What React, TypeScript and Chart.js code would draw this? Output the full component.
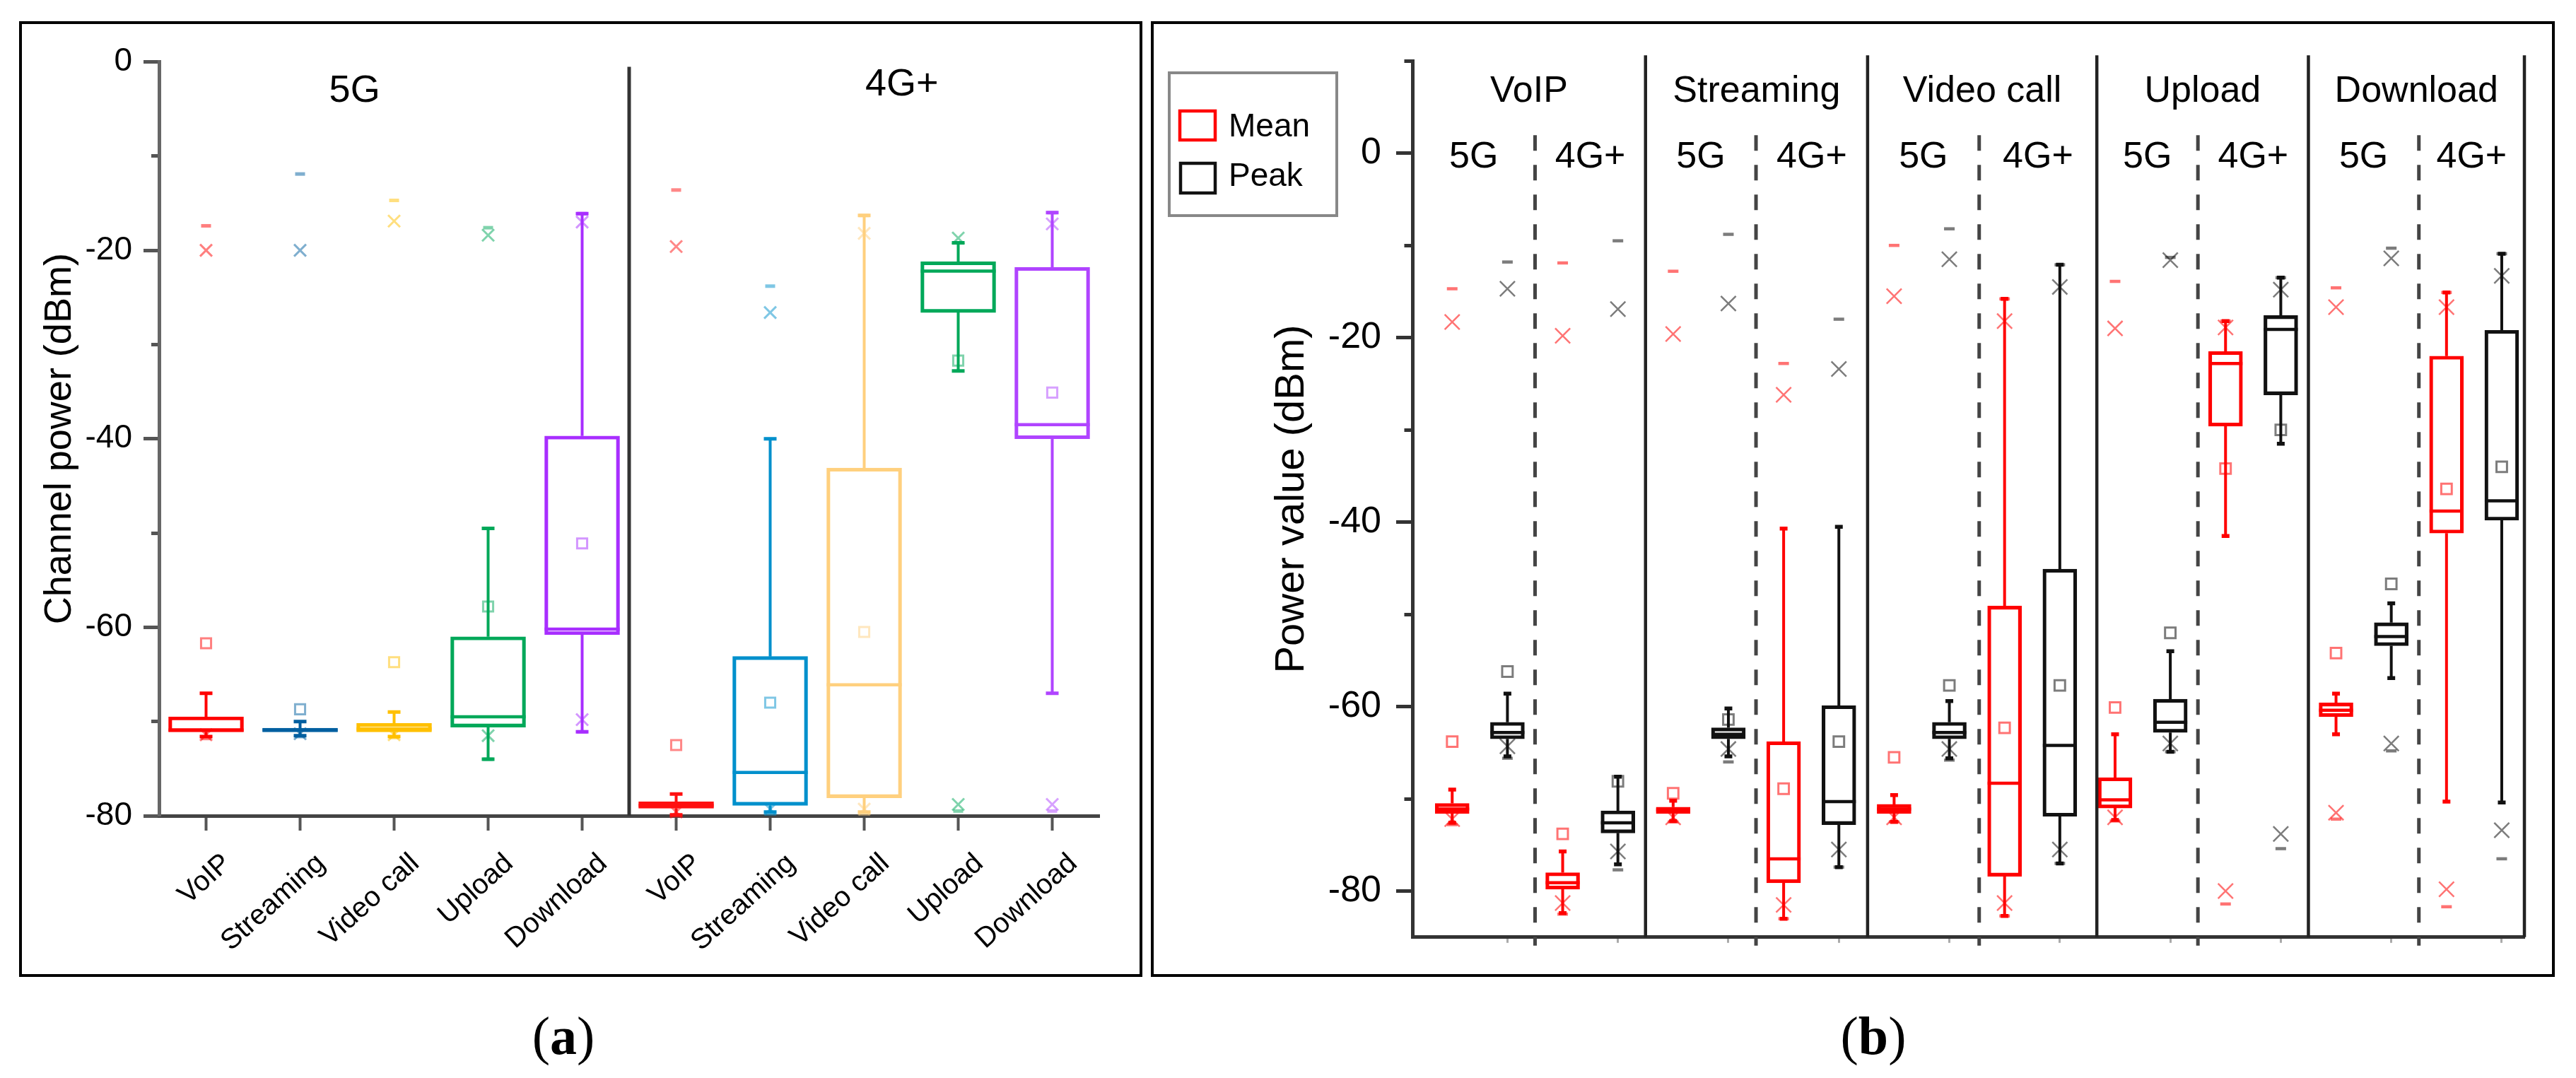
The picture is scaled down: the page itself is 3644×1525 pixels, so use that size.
import React, { useEffect, useRef } from 'react';
import { Chart, registerables } from 'chart.js';

Chart.register(...registerables);

const FONT = '"Liberation Sans", Arial, Helvetica, sans-serif';
Chart.defaults.font.family = FONT;
Chart.defaults.color = '#000';

// ---------------- Panel (a) data ----------------
const categoriesA = ['VoIP', 'Streaming', 'Video call', 'Upload', 'Download', 'VoIP', 'Streaming', 'Video call', 'Upload', 'Download'];
const networkOfA = ['5G', '5G', '5G', '5G', '5G', '4G+', '4G+', '4G+', '4G+', '4G+'];
const networkLabelsA = ['5G', '4G+'];
const whiskerLowA = [-71.6, -71.5, -71.6, -74.0, -71.1, -79.9, -79.6, -79.6, -32.8, -67.0];
const q1A = [-71.1, -71.1, -71.1, -70.6, -60.8, -79.2, -78.9, -78.1, -26.6, -40.0];
const medianA = [-70.9, -70.9, -70.8, -69.5, -60.2, -78.9, -75.4, -66.1, -22.2, -38.5];
const q3A = [-69.5, -70.7, -70.2, -61.0, -39.7, -78.5, -63.1, -43.1, -21.2, -21.8];
const whiskerHighA = [-67.0, -70.0, -69.0, -49.5, -16.1, -77.7, -40.0, -16.3, -19.2, -16.0];
const meanA = [-61.7, -68.7, -63.7, -57.8, -51.1, -72.5, -68.0, -60.5, -31.7, -35.1];
const p1A = [-71.4, -71.3, -71.4, -71.5, -69.8, -79.6, -79.3, -79.3, -78.8, -78.8];
const p99A = [-20.0, -20.0, -16.9, -18.4, -17.0, -19.6, -26.6, -18.2, -18.7, -17.2];
const minA = [-71.8, -71.6, -71.7, -74.0, -71.1, -80.0, -79.8, -79.8, -79.5, -79.5];
const maxA = [-17.4, -11.9, -14.7, -17.6, -16.1, -13.6, -23.8, -16.3, -19.2, -16.0];
const yTicksA = [-80, -70, -60, -50, -40, -30, -20, -10, 0];

// ---------------- Panel (b) data ----------------
const groupsB = ['VoIP', 'Streaming', 'Video call', 'Upload', 'Download'];
const networksB = ['5G', '4G+'];
const metricsB = ['Mean', 'Peak'];
const whiskerLowB = [-72.6, -65.4, -82.4, -77.1, -72.4, -65.4, -83.0, -77.4, -72.5, -65.6, -82.7, -77.0, -72.3, -64.9, -41.5, -31.5, -63.0, -56.9, -70.3, -70.4];
const q1B = [-71.6, -63.5, -79.8, -73.7, -71.6, -63.5, -79.1, -72.8, -71.6, -63.5, -78.4, -71.9, -71.0, -62.8, -29.6, -26.2, -61.1, -53.4, -41.2, -39.8];
const medianB = [-71.1, -62.8, -79.1, -72.6, -71.2, -63.0, -76.5, -70.3, -71.1, -62.8, -68.3, -64.2, -70.1, -61.7, -22.8, -19.1, -60.4, -52.4, -38.8, -37.7];
const q3B = [-70.5, -61.7, -78.0, -71.3, -70.9, -62.3, -63.8, -59.9, -70.6, -61.7, -49.1, -45.1, -67.7, -59.2, -21.5, -17.6, -59.6, -50.9, -22.0, -19.2];
const whiskerHighB = [-69.0, -58.6, -75.7, -67.6, -70.2, -60.2, -40.7, -40.5, -69.6, -59.4, -15.8, -12.1, -63.0, -54.0, -18.2, -13.5, -58.6, -48.8, -15.1, -10.9];
const meanB = [-63.8, -56.2, -73.8, -68.1, -69.4, -61.4, -68.9, -63.8, -65.5, -57.7, -62.3, -57.7, -60.1, -52.0, -34.2, -30.0, -54.2, -46.7, -36.4, -34.0];
const p1B = [-72.2, -64.3, -81.3, -75.7, -72.0, -64.6, -81.5, -75.5, -72.0, -64.6, -81.3, -75.5, -72.0, -64.0, -80.0, -73.8, -71.5, -64.0, -79.8, -73.4];
const p99B = [-18.3, -14.7, -19.8, -16.9, -19.6, -16.3, -26.2, -23.4, -15.5, -11.5, -18.2, -14.5, -19.0, -11.6, -18.9, -14.8, -16.7, -11.4, -16.7, -13.3];
const minB = [-72.8, -65.6, -82.5, -77.7, -72.5, -66.0, -83.0, -77.4, -72.5, -65.8, -82.7, -77.0, -72.4, -64.9, -81.4, -75.4, -72.2, -64.8, -81.7, -76.5];
const maxB = [-14.7, -11.8, -11.9, -9.5, -12.8, -8.8, -22.8, -18.0, -10.0, -8.2, -15.8, -12.1, -13.9, -11.3, -18.2, -13.5, -14.6, -10.3, -15.1, -10.9];
const yTicksB = [-80, -70, -60, -50, -40, -30, -20, -10, 0, 10];

// ---------------- styles / layout ----------------
const paletteA = ['#FF0000', '#005FA0', '#FFC000', '#00A859', '#A82EFF', '#FF1010', '#0090CC', '#FFD07E', '#00A859', '#B044FF'];
const metricColorB: any = { Mean: '#FF0000', Peak: '#111111' };
const groupBoundsB = [-0.72, 3.5, 7.52, 11.67, 15.5, 19.41];
const netBoundsB = [1.5, 5.5, 9.54, 13.5, 17.5];
const netLabelPosA = [1.58, 7.4];
const netLabelDyA = [41.5, 32.5];

function fade(hex: string, a: number) {
  const h = hex.replace('#', '');
  const r = parseInt(h.slice(0, 2), 16), g = parseInt(h.slice(2, 4), 16), b = parseInt(h.slice(4, 6), 16);
  return `rgba(${r},${g},${b},${a})`;
}

function makeBoxPlugin(o: any) {
  return {
    id: 'boxWhiskers',
    beforeDatasetsDraw(chart: any) {
      const meta = chart.getDatasetMeta(0);
      const ys = chart.scales.y;
      const ctx = chart.ctx;
      ctx.save();
      ctx.setLineDash([]);
      meta.data.forEach((el: any, i: number) => {
        const x = el.x, w = el.width;
        const pHi = ys.getPixelForValue(o.wh[i]);
        const pQ3 = ys.getPixelForValue(o.q3[i]);
        const pQ1 = ys.getPixelForValue(o.q1[i]);
        const pLo = ys.getPixelForValue(o.wl[i]);
        const pMed = ys.getPixelForValue(o.med[i]);
        ctx.strokeStyle = o.colors[i];
        ctx.lineWidth = o.whiskerLine;
        ctx.beginPath();
        ctx.moveTo(x, pQ3); ctx.lineTo(x, pHi);
        ctx.moveTo(x, pQ1); ctx.lineTo(x, pLo);
        ctx.stroke();
        ctx.lineWidth = o.capLine;
        ctx.beginPath();
        ctx.moveTo(x - o.capWidth / 2, pHi); ctx.lineTo(x + o.capWidth / 2, pHi);
        ctx.moveTo(x - o.capWidth / 2, pLo); ctx.lineTo(x + o.capWidth / 2, pLo);
        ctx.stroke();
        ctx.lineWidth = o.boxLine;
        ctx.beginPath();
        ctx.moveTo(x - w / 2, pMed); ctx.lineTo(x + w / 2, pMed);
        ctx.stroke();
      });
      ctx.restore();
    },
  };
}

function makeDatasets(o: any) {
  const pos = o.positions;
  const pts = (vals: number[]) => vals.map((v, i) => ({ x: pos[i], y: v }));
  return [
    {
      type: 'bar',
      label: 'box',
      data: pos.map((p: number, i: number) => ({ x: p, y: [o.q1[i], o.q3[i]] })),
      backgroundColor: 'rgba(0,0,0,0)',
      borderColor: o.colors,
      borderWidth: o.boxLine,
      borderSkipped: false,
      barThickness: o.barThickness,
      order: 2,
      clip: false,
    },
    {
      type: 'scatter', label: 'mean', data: pts(o.mean),
      pointStyle: 'rect', pointRadius: o.meanR, pointBorderWidth: o.meanW,
      pointBorderColor: o.markerColors, pointBackgroundColor: 'rgba(0,0,0,0)', order: 1, clip: false,
    },
    {
      type: 'scatter', label: 'pct', data: [...pts(o.p99), ...pts(o.p1)],
      pointStyle: 'crossRot', pointRadius: o.crossR, pointBorderWidth: o.crossW,
      pointBorderColor: [...o.markerColors, ...o.markerColors], order: 1, clip: false,
    },
    {
      type: 'scatter', label: 'minmax', data: [...pts(o.mx), ...pts(o.mn)],
      pointStyle: 'line', pointRadius: o.dashR, pointBorderWidth: o.dashW,
      pointBorderColor: [...o.markerColors, ...o.markerColors], order: 1, clip: false,
    },
  ];
}

const minorDash = (len: number) => (ctx: any) =>
  ctx.tick && Math.abs(ctx.tick.value % 20) !== 0 ? [0, len, len, 0] : [];

export default function App() {
  const refA = useRef<HTMLCanvasElement>(null);
  const refB = useRef<HTMLCanvasElement>(null);

  useEffect(() => {
    // ---------- Panel (a) ----------
    const posA = categoriesA.map((_, i) => i);
    const colorsA = paletteA;
    const markerColorsA = paletteA.map((c) => fade(c, 0.5));
    const styleA = {
      positions: posA, wl: whiskerLowA, q1: q1A, med: medianA, q3: q3A, wh: whiskerHighA,
      mean: meanA, p1: p1A, p99: p99A, mn: minA, mx: maxA,
      colors: colorsA, markerColors: markerColorsA,
      barThickness: 106, boxLine: 4.5, whiskerLine: 4, capLine: 5, capWidth: 18,
      meanR: 10, meanW: 3, crossR: 12, crossW: 3, dashR: 7, dashW: 5,
    };
    const sepA = networkOfA.filter((n) => n === networkLabelsA[0]).length - 0.5;
    const extraA = {
      id: 'extraA',
      afterDraw(chart: any) {
        const { ctx, chartArea: ca, scales } = chart;
        const x = scales.x;
        ctx.save();
        ctx.strokeStyle = '#333';
        ctx.lineWidth = 5;
        const px = x.getPixelForValue(sepA);
        ctx.beginPath(); ctx.moveTo(px, ca.top + 7); ctx.lineTo(px, ca.bottom); ctx.stroke();
        ctx.fillStyle = '#000';
        ctx.font = `54px ${FONT}`;
        ctx.textAlign = 'center';
        ctx.textBaseline = 'middle';
        networkLabelsA.forEach((t, i) => ctx.fillText(t, x.getPixelForValue(netLabelPosA[i]), ca.top + netLabelDyA[i]));
        ctx.restore();
      },
    };
    const chartA = new Chart(refA.current as any, {
      type: 'bar',
      data: { datasets: makeDatasets(styleA) as any },
      options: {
        animation: false, responsive: false, maintainAspectRatio: false, events: [],
        layout: { padding: { left: 0, right: 56, top: 53.5, bottom: 0 } },
        plugins: { legend: { display: false }, tooltip: { enabled: false } },
        scales: {
          x: {
            type: 'linear', min: -0.5, max: categoriesA.length - 0.5, offset: false,
            afterBuildTicks: (s: any) => { s.ticks = posA.map((v) => ({ value: v })); },
            afterFit: (s: any) => { s.height = 224; },
            ticks: {
              autoSkip: false, minRotation: 42, maxRotation: 42, padding: 23, labelOffset: 30,
              font: { size: 40 }, color: '#000',
              callback: (v: any) => categoriesA[Math.round(v)] ?? '',
            },
            grid: { drawOnChartArea: false, drawTicks: true, tickLength: 21, tickWidth: 4, tickColor: '#555', offset: false },
            border: { display: true, color: '#444', width: 5 },
          },
          y: {
            type: 'linear', min: -80, max: 0, beginAtZero: false,
            afterBuildTicks: (s: any) => { s.ticks = yTicksA.map((v) => ({ value: v })); },
            afterFit: (s: any) => { s.width = 194; },
            ticks: {
              autoSkip: false, padding: 16, font: { size: 46 }, color: '#000',
              callback: (v: any) => (v % 20 === 0 ? String(v) : ''),
            },
            grid: {
              drawOnChartArea: false, drawTicks: true, tickLength: 22, tickWidth: 5, tickColor: '#555',
              tickBorderDash: minorDash(11) as any,
            },
            border: { display: true, color: '#666', width: 5 },
            title: { display: true, text: 'Channel power (dBm)', font: { size: 54 }, color: '#000', padding: { top: 22, bottom: 0 } },
          },
        },
      } as any,
      plugins: [makeBoxPlugin(styleA), extraA],
    });

    // ---------- Panel (b) ----------
    const kindsB: string[] = [];
    groupsB.forEach(() => networksB.forEach(() => metricsB.forEach((m) => kindsB.push(m))));
    const posB = kindsB.map((_, i) => i);
    const colorsB = kindsB.map((k) => metricColorB[k]);
    const markerColorsB = colorsB.map((c) => fade(c, 0.55));
    const styleB = {
      positions: posB, wl: whiskerLowB, q1: q1B, med: medianB, q3: q3B, wh: whiskerHighB,
      mean: meanB, p1: p1B, p99: p99B, mn: minB, mx: maxB,
      colors: colorsB, markerColors: markerColorsB,
      barThickness: 48, boxLine: 4.5, whiskerLine: 4, capLine: 5.5, capWidth: 11,
      meanR: 10.5, meanW: 3, crossR: 15, crossW: 2.5, dashR: 7.5, dashW: 4.5,
    };
    const extraB = {
      id: 'extraB',
      afterDraw(chart: any) {
        const { ctx, chartArea: ca, scales } = chart;
        const x = scales.x;
        ctx.save();
        ctx.strokeStyle = '#222';
        ctx.lineWidth = 4.5;
        ctx.setLineDash([]);
        groupBoundsB.slice(1).forEach((v) => {
          const px = x.getPixelForValue(v);
          ctx.beginPath(); ctx.moveTo(px, ca.top - 8); ctx.lineTo(px, ca.bottom); ctx.stroke();
        });
        ctx.strokeStyle = '#444';
        ctx.lineWidth = 5;
        ctx.setLineDash([22, 20]);
        netBoundsB.forEach((v) => {
          const px = x.getPixelForValue(v);
          ctx.beginPath(); ctx.moveTo(px, ca.top + 105); ctx.lineTo(px, ca.bottom + 12); ctx.stroke();
        });
        ctx.setLineDash([]);
        ctx.fillStyle = '#000';
        ctx.textAlign = 'center';
        ctx.textBaseline = 'middle';
        ctx.font = `52px ${FONT}`;
        groupsB.forEach((g, gi) => {
          const c = (groupBoundsB[gi] + groupBoundsB[gi + 1]) / 2;
          ctx.fillText(g, x.getPixelForValue(c), ca.top + 43);
          const c5 = (groupBoundsB[gi] + netBoundsB[gi]) / 2;
          const c4 = (netBoundsB[gi] + groupBoundsB[gi + 1]) / 2;
          ctx.fillText(networksB[0], x.getPixelForValue(c5), ca.top + 136);
          ctx.fillText(networksB[1], x.getPixelForValue(c4), ca.top + 136);
        });
        // legend
        ctx.strokeStyle = '#888';
        ctx.lineWidth = 4;
        ctx.strokeRect(22, 69, 237, 202);
        ctx.lineWidth = 4.5;
        ctx.strokeStyle = metricColorB[metricsB[0]];
        ctx.strokeRect(37, 123, 50, 41);
        ctx.strokeStyle = metricColorB[metricsB[1]];
        ctx.strokeRect(38, 197, 49, 42);
        ctx.font = `46px ${FONT}`;
        ctx.textAlign = 'left';
        ctx.fillText(metricsB[0], 106, 146);
        ctx.fillText(metricsB[1], 106, 216);
        ctx.restore();
      },
    };
    const chartB = new Chart(refB.current as any, {
      type: 'bar',
      data: { datasets: makeDatasets(styleB) as any },
      options: {
        animation: false, responsive: false, maintainAspectRatio: false, events: [],
        layout: { padding: { left: 0, right: 39, top: 52, bottom: 0 } },
        plugins: { legend: { display: false }, tooltip: { enabled: false } },
        scales: {
          x: {
            type: 'linear', min: groupBoundsB[0], max: groupBoundsB[groupBoundsB.length - 1], offset: false,
            afterBuildTicks: (s: any) => { s.ticks = posB.filter((i) => i % 2 === 1).map((v) => ({ value: v })); },
            afterFit: (s: any) => { s.height = 32; },
            ticks: { display: false, autoSkip: false },
            grid: { drawOnChartArea: false, drawTicks: true, tickLength: 8, tickWidth: 3, tickColor: '#aaa', offset: false },
            border: { display: true, color: '#333', width: 5 },
          },
          y: {
            type: 'linear', min: -85, max: 10, beginAtZero: false,
            afterBuildTicks: (s: any) => { s.ticks = yTicksB.map((v) => ({ value: v })); },
            afterFit: (s: any) => { s.width = 366; },
            ticks: {
              autoSkip: false, padding: 21, font: { size: 52 }, color: '#000',
              callback: (v: any) => (v % 20 === 0 ? String(v) : ''),
            },
            grid: {
              drawOnChartArea: false, drawTicks: true, tickLength: 23, tickWidth: 5, tickColor: '#333',
              tickBorderDash: minorDash(11.5) as any,
            },
            border: { display: true, color: '#333', width: 5 },
            title: { display: true, text: 'Power value (dBm)', font: { size: 58 }, color: '#000', padding: { top: 161, bottom: 0 } },
          },
        },
      } as any,
      plugins: [makeBoxPlugin(styleB), extraB],
    });

    return () => { chartA.destroy(); chartB.destroy(); };
  }, []);

  const captionStyle: any = {
    position: 'absolute', top: 1423, width: 400, textAlign: 'center',
    font: '76px "Liberation Serif", "Times New Roman", serif', lineHeight: '84px', color: '#000',
  };

  return (
    <div style={{ position: 'fixed', left: 0, top: 0, width: 3644, height: 1525, background: '#fff', overflow: 'hidden' }}>
      <div style={{ position: 'absolute', left: 27, top: 30, width: 1589, height: 1352, border: '4px solid #000', boxSizing: 'border-box' }} />
      <div style={{ position: 'absolute', left: 1628, top: 30, width: 1986, height: 1352, border: '4px solid #000', boxSizing: 'border-box' }} />
      <canvas ref={refA} width={1580} height={1344} style={{ position: 'absolute', left: 31, top: 34, width: 1580, height: 1344 }} />
      <canvas ref={refB} width={1978} height={1344} style={{ position: 'absolute', left: 1632, top: 34, width: 1978, height: 1344 }} />
      <div style={{ ...captionStyle, left: 597 }}>(<b>a</b>)</div>
      <div style={{ ...captionStyle, left: 2450 }}>(<b>b</b>)</div>
    </div>
  );
}
